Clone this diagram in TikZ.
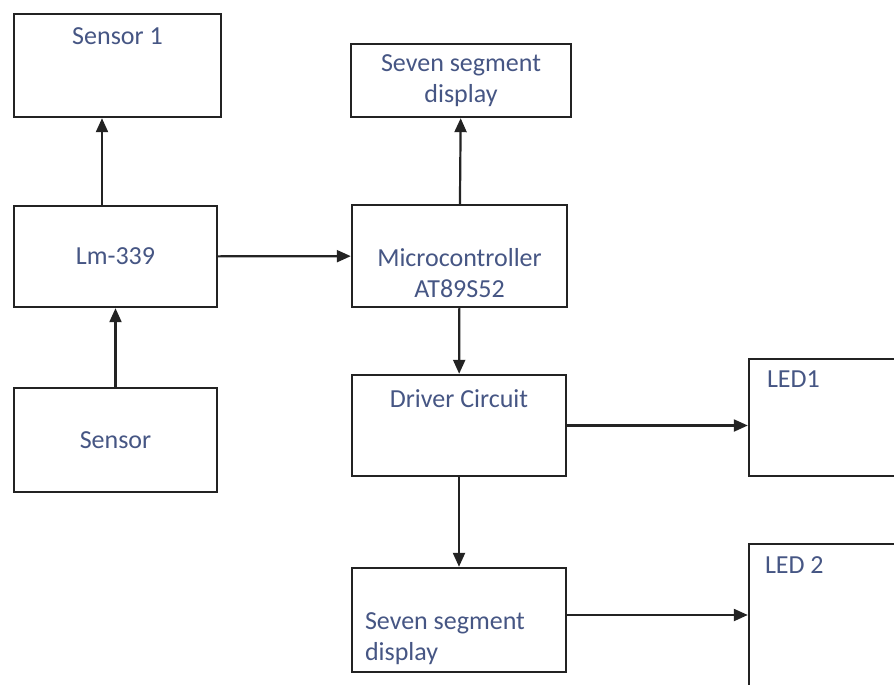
\documentclass[tikz,border=0pt]{standalone}
\usepackage{fontspec}
\setmainfont{Carlito}
\usetikzlibrary{arrows.meta, positioning, calc}
\definecolor{blockLine}{RGB}{35, 35, 35}
\definecolor{labelBlue}{RGB}{70, 86, 132}

\begin{document}
\begin{tikzpicture}[x=1pt, y=-1pt,
                    blk/.style={draw=blockLine, line width=2.4pt, inner sep=0pt},
                    txt/.style={text=labelBlue, inner sep=0pt, font=\fontsize{26}{31}\selectfont},
                    arr/.style={draw=blockLine, line width=2.2pt, -{Triangle[length=14pt, width=12pt]}}]
                    \clip (0,0) rectangle (894,685);
                    \fill[white] (0,0) rectangle (894,685);

                    \node[blk, minimum width=207pt, minimum height=103pt, label={[txt, anchor=center, yshift=-23pt]north:Sensor 1}] (s1) at (117.5,65.5) {};
                    \node[blk, txt, minimum width=203pt, minimum height=101pt] (lm) at (115.5,256.5) {Lm-339};
                    \node[blk, txt, minimum width=203pt, minimum height=104pt] (sen) at (115.5,440) {Sensor};
                    \node[blk, txt, align=center, minimum width=220pt, minimum height=73pt] (ssd1) at (461,80.5) {Seven segment\\display};
                    \node[blk, minimum width=215pt, minimum height=102pt, label={[txt, align=center, anchor=center, yshift=-17pt]center:Microcontroller\\AT89S52}] (mcu) at (459.5,256) {};
                    \node[blk, minimum width=214pt, minimum height=101pt, label={[txt, anchor=center, yshift=-25pt]north:Driver Circuit}] (drv) at (459,425.5) {};
                    \node[blk, minimum width=214pt, minimum height=104pt, label={[txt, align=left, anchor=south west, xshift=14pt, yshift=8pt]south west:Seven segment\\display}] (ssd2) at (459,620) {};
                    \node[blk, minimum width=200pt, minimum height=117pt, label={[txt, anchor=north west, xshift=19pt, yshift=-13pt]north west:LED1}] (led1) at (849,417.5) {};
                    \node[blk, minimum width=200pt, minimum height=176pt, label={[txt, anchor=north west, xshift=17pt, yshift=-14pt]north west:LED 2}] (led2) at (849,632) {};

                    \draw[arr] ([xshift=-13.5pt]lm.north) -- ([xshift=-15.5pt]s1.south);
                    \draw[arr] (sen) -- (lm);
                    \draw[arr] (lm) -- (mcu);
                    \draw[arr] (mcu) -- (ssd1);
                    \draw[arr] (mcu) -- (drv);
                    \draw[arr] (drv.east) -- (drv.east -| led1.west);
                    \draw[arr] (drv) -- (ssd2);
                    \draw[arr] ($(ssd2.east)+(0,-5)$) -- ($(ssd2.east -| led2.west)+(0,-5)$);
                \end{tikzpicture}
\end{document}
